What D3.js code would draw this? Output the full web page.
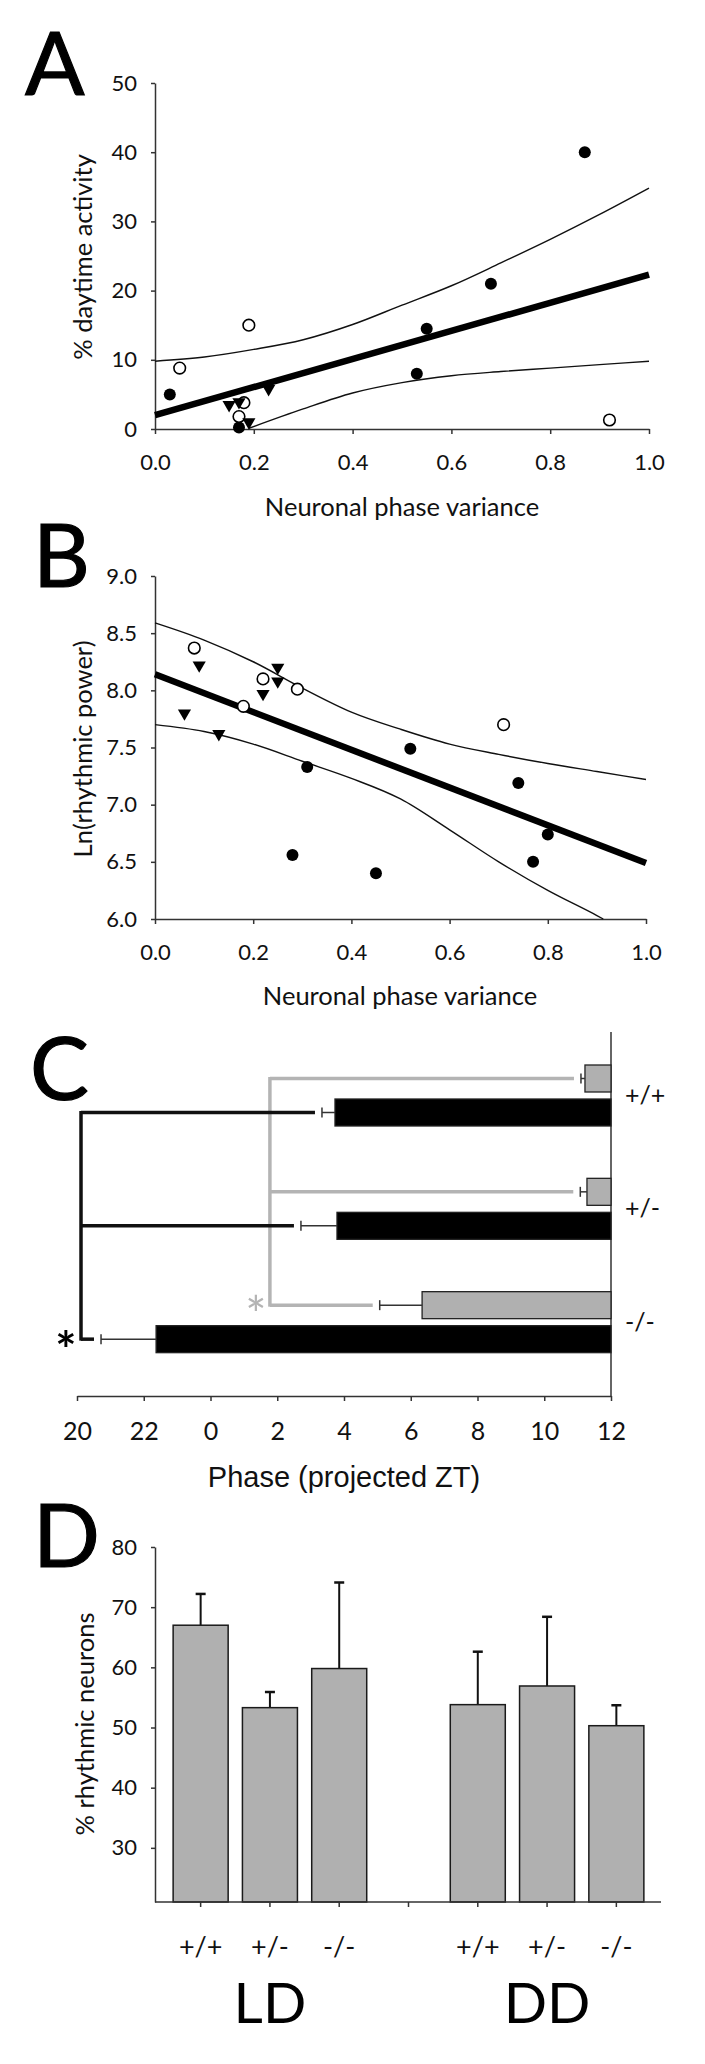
<!DOCTYPE html>
<html><head><meta charset="utf-8">
<script src="https://cdn.jsdelivr.net/npm/d3@7"></script>
<style>body{margin:0;background:#fff} svg{display:block} text{font-family:Lato, sans-serif; fill:#111}</style>
</head><body><svg id="c" width="705" height="2064"></svg>
<script>
// ---------- Panel A data ----------
const aFilled = [[0.03,5.0],[0.17,0.2],[0.53,8.0],[0.55,14.5],[0.68,21.0],[0.87,40.0]];
const aOpen = [[0.05,8.8],[0.19,15.0],[0.18,3.8],[0.17,1.8],[0.92,1.3]];
const aTri = [[0.15,3.5],[0.17,3.9],[0.19,1.0],[0.23,5.8]];
const aFit = [[0,2.0],[1,22.3]];
const aUpper = [[0,9.8],[0.1,10.4],[0.2,11.5],[0.3,12.9],[0.4,15.1],[0.5,17.9],[0.6,20.7],[0.7,24.0],[0.8,27.4],[0.9,31.0],[1.0,34.8]];
const aLower = [[0.19,0.1],[0.3,2.9],[0.4,5.2],[0.5,6.7],[0.6,7.7],[0.7,8.3],[0.8,8.8],[0.9,9.3],[1.0,9.8]];
const aXTicks = [0,0.2,0.4,0.6,0.8,1.0];
const aYTicks = [0,10,20,30,40,50];

// ---------- Panel B data ----------
const bOpen = [[0.08,8.37],[0.22,8.10],[0.29,8.01],[0.18,7.86],[0.71,7.70]];
const bTri = [[0.09,8.22],[0.25,8.20],[0.25,8.08],[0.22,7.97],[0.06,7.80],[0.13,7.62]];
const bFilled = [[0.31,7.33],[0.52,7.49],[0.28,6.56],[0.45,6.40],[0.74,7.19],[0.80,6.74],[0.77,6.50]];
const bFit = [[0,8.14],[1,6.49]];
const bUpper = [[0,8.59],[0.1,8.44],[0.2,8.25],[0.3,8.02],[0.4,7.81],[0.5,7.66],[0.6,7.53],[0.7,7.44],[0.8,7.36],[0.9,7.29],[1.0,7.22]];
const bLower = [[0,7.70],[0.1,7.64],[0.2,7.53],[0.3,7.38],[0.4,7.23],[0.5,7.05],[0.6,6.78],[0.7,6.50],[0.8,6.25],[0.9,6.03],[0.913,6.0]];
const bXTicks = [0,0.2,0.4,0.6,0.8,1.0];
const bYTicks = [6.0,6.5,7.0,7.5,8.0,8.5,9.0];

// ---------- Panel C data (phase in projected ZT) ----------
const cGenotypes = ["+/+","+/-","-/-"];
const cGrayPhase = [11.22, 11.28, 6.34];
const cGraySem = [0.12, 0.2, 1.27];
const cBlackPhase = [3.73, 3.79, 22.37];
const cBlackSem = [0.39, 1.08, 1.65];
const cTickHours = [20,22,0,2,4,6,8,10,12];
const cGrayBracket = 1.78;   // ZT
const cBlackBracket = 20.12; // ZT

// ---------- Panel D data ----------
const dConditions = ["LD","DD"];
const dGenotypes = ["+/+","+/-","-/-"];
const dLD = [67.0, 53.3, 59.8];
const dLDsem = [5.2, 2.6, 14.3];
const dDD = [53.8, 56.9, 50.3];
const dDDsem = [8.8, 11.5, 3.4];
const dYTicks = [30,40,50,60,70,80];

const svg = d3.select("#c");
const AX = "#333";

function styleAxis(g, fs){
  g.select(".domain").attr("stroke",AX).attr("stroke-width",1.5);
  g.selectAll(".tick line").attr("stroke",AX).attr("stroke-width",1.5);
  g.selectAll(".tick text").attr("fill","#111").style("font-family","Lato").style("font-size",fs+"px");
}
function letter(t,x,y){
  svg.append("text").attr("x",x).attr("y",y).style("font-size","88px").style("fill","#000")
    .attr("stroke","#000").attr("stroke-width",1.2).text(t);
}
function scatter(x,y,filled,open,tri,fit,upper,lower){
  const g = svg.append("g");
  const line = d3.line().x(d=>x(d[0])).y(d=>y(d[1])).curve(d3.curveMonotoneX);
  g.append("path").attr("d",line(upper)).attr("fill","none").attr("stroke","#111").attr("stroke-width",1.4);
  g.append("path").attr("d",line(lower)).attr("fill","none").attr("stroke","#111").attr("stroke-width",1.4);
  g.append("path").attr("d",d3.line().x(d=>x(d[0])).y(d=>y(d[1]))(fit)).attr("fill","none").attr("stroke","#000").attr("stroke-width",6.5);
  g.selectAll(".f").data(filled).join("circle").attr("cx",d=>x(d[0])).attr("cy",d=>y(d[1])).attr("r",6).attr("fill","#000");
  g.selectAll(".o").data(open).join("circle").attr("cx",d=>x(d[0])).attr("cy",d=>y(d[1])).attr("r",5.8).attr("fill","#fff").attr("stroke","#000").attr("stroke-width",1.6);
  const sym = d3.symbol(d3.symbolTriangle,75);
  g.selectAll(".t").data(tri).join("path").attr("d",sym).attr("transform",d=>`translate(${x(d[0])},${y(d[1])}) rotate(180)`).attr("fill","#000");
}

// ================= Panel A =================
{
  const x = d3.scaleLinear([0,1],[155,649]);
  const y = d3.scaleLinear([0,50],[429,83]);
  const gx = svg.append("g").attr("transform","translate(0,429)")
    .call(d3.axisBottom(x).tickValues(aXTicks).tickFormat(d3.format(".1f")).tickSize(5).tickSizeOuter(0).tickPadding(20));
  styleAxis(gx,22);
  const gy = svg.append("g").attr("transform","translate(155,0)")
    .call(d3.axisLeft(y).tickValues(aYTicks).tickSize(4).tickSizeOuter(0).tickPadding(14));
  styleAxis(gy,22);
  scatter(x,y,aFilled,aOpen,aTri,aFit,aUpper,aLower);
  svg.append("text").attr("x",402).attr("y",516).attr("text-anchor","middle").style("font-size","25.5px").text("Neuronal phase variance");
  svg.append("text").attr("transform","translate(83,257) rotate(-90)").attr("text-anchor","middle").attr("dy","0.35em").style("font-size","25.5px").text("% daytime activity");
  letter("A",25,95);
}

// ================= Panel B =================
{
  const x = d3.scaleLinear([0,1],[155,646]);
  const y = d3.scaleLinear([6,9],[919,576]);
  const gx = svg.append("g").attr("transform","translate(0,919)")
    .call(d3.axisBottom(x).tickValues(bXTicks).tickFormat(d3.format(".1f")).tickSize(5).tickSizeOuter(0).tickPadding(20));
  styleAxis(gx,22);
  const gy = svg.append("g").attr("transform","translate(155,0)")
    .call(d3.axisLeft(y).tickValues(bYTicks).tickFormat(d3.format(".1f")).tickSize(4).tickSizeOuter(0).tickPadding(14));
  styleAxis(gy,22);
  scatter(x,y,bFilled,bOpen,bTri,bFit,bUpper,bLower);
  svg.append("text").attr("x",400).attr("y",1005).attr("text-anchor","middle").style("font-size","25.5px").text("Neuronal phase variance");
  svg.append("text").attr("transform","translate(83,749) rotate(-90)").attr("text-anchor","middle").attr("dy","0.35em").style("font-size","25.5px").text("Ln(rhythmic power)");
  letter("B",33,587);
}

// ================= Panel C =================
{
  const toT = h => h >= 20 ? h : h + 24;
  const x = d3.scaleLinear([20,36],[77,611]);
  const y = d3.scaleBand(cGenotypes,[1038.5,1378.5]);
  const sub = d3.scaleBand(["gray","black"],[26.5,87.5]).paddingInner(0.206);
  const bw = sub.bandwidth();
  const gx = svg.append("g").attr("transform","translate(0,1396)")
    .call(d3.axisBottom(x).tickValues(cTickHours.map(toT)).tickFormat(d=>d%24).tickSize(5).tickSizeOuter(0).tickPadding(21));
  styleAxis(gx,25);
  svg.append("line").attr("x1",x(36)).attr("x2",x(36)).attr("y1",1032).attr("y2",1396).attr("stroke",AX).attr("stroke-width",1.5);

  const rows = cGenotypes.map((g,i)=>({g,
    gray:{t:toT(cGrayPhase[i]),s:cGraySem[i],yc:y(g)+sub("gray")+bw/2},
    black:{t:toT(cBlackPhase[i]),s:cBlackSem[i],yc:y(g)+sub("black")+bw/2}}));
  const grayC = "#b4b4b4";
  // brackets
  const gbx = x(toT(cGrayBracket));
  svg.append("line").attr("x1",gbx).attr("x2",gbx).attr("y1",rows[0].gray.yc-1.5).attr("y2",rows[2].gray.yc+1.5).attr("stroke",grayC).attr("stroke-width",3.5);
  rows.forEach(r=>{
    svg.append("line").attr("x1",gbx).attr("x2",x(r.gray.t-r.gray.s)-7).attr("y1",r.gray.yc).attr("y2",r.gray.yc).attr("stroke",grayC).attr("stroke-width",3.5);
  });
  const bbx = x(toT(cBlackBracket));
  svg.append("line").attr("x1",bbx).attr("x2",bbx).attr("y1",rows[0].black.yc-1.5).attr("y2",rows[2].black.yc+1.5).attr("stroke","#111").attr("stroke-width",3.5);
  rows.forEach(r=>{
    svg.append("line").attr("x1",bbx).attr("x2",x(r.black.t-r.black.s)-7).attr("y1",r.black.yc).attr("y2",r.black.yc).attr("stroke","#111").attr("stroke-width",3.5);
  });
  // bars + error bars
  rows.forEach(r=>{
    [["gray","#b0b0b0"],["black","#000"]].forEach(([k,fill])=>{
      const d = r[k];
      svg.append("rect").attr("x",x(d.t)).attr("y",d.yc-bw/2).attr("width",x(36)-x(d.t)).attr("height",bw)
        .attr("fill",fill).attr("stroke","#222").attr("stroke-width",1.3);
      const e = x(d.t-d.s);
      svg.append("line").attr("x1",x(d.t)).attr("x2",e).attr("y1",d.yc).attr("y2",d.yc).attr("stroke","#333").attr("stroke-width",1.5);
      svg.append("line").attr("x1",e).attr("x2",e).attr("y1",d.yc-5).attr("y2",d.yc+5).attr("stroke","#333").attr("stroke-width",1.5);
    });
    svg.append("text").attr("x",625).attr("y",y(r.g)+y.bandwidth()/2).attr("dy","0.35em").style("font-size","25px").text(r.g);
  });
  svg.append("text").attr("x",gbx-14).attr("y",rows[2].gray.yc+28).attr("text-anchor","middle").style("font-size","50px").style("fill",grayC).text("*");
  svg.append("text").attr("x",bbx-15).attr("y",rows[2].black.yc+29).attr("text-anchor","middle").style("font-size","50px").style("font-weight","bold").style("fill","#000").text("*");
  svg.append("text").attr("x",344).attr("y",1487).attr("text-anchor","middle").style("font-family","'Liberation Sans', Arial, sans-serif").style("font-size","29px").text("Phase (projected ZT)");
  letter("C",30,1100);
}

// ================= Panel D =================
{
  const keys = ["LD+/+","LD+/-","LD-/-","gap","DD+/+","DD+/-","DD-/-"];
  const vals = {}; const sems = {};
  dGenotypes.forEach((g,i)=>{vals["LD"+g]=dLD[i]; sems["LD"+g]=dLDsem[i]; vals["DD"+g]=dDD[i]; sems["DD"+g]=dDDsem[i];});
  const x = d3.scaleBand(keys,[166,651]).paddingInner(0.206).paddingOuter(0.103);
  const y = d3.scaleLinear([21,80],[1902,1547]);
  const gy = svg.append("g").attr("transform","translate(155,0)")
    .call(d3.axisLeft(y).tickValues(dYTicks).tickSize(4).tickSizeOuter(0).tickPadding(14));
  styleAxis(gy,22);
  const data = keys.filter(k=>k!=="gap");
  data.forEach(k=>{
    const cx = x(k)+x.bandwidth()/2, top = y(vals[k]+sems[k]);
    svg.append("line").attr("x1",cx).attr("x2",cx).attr("y1",y(vals[k])).attr("y2",top).attr("stroke","#111").attr("stroke-width",2);
    svg.append("line").attr("x1",cx-5).attr("x2",cx+5).attr("y1",top).attr("y2",top).attr("stroke","#111").attr("stroke-width",2.5);
    svg.append("rect").attr("x",x(k)).attr("y",y(vals[k])).attr("width",x.bandwidth()).attr("height",y(21)-y(vals[k]))
      .attr("fill","#b0b0b0").attr("stroke","#1a1a1a").attr("stroke-width",1.5);
  });
  svg.append("line").attr("x1",155).attr("x2",661).attr("y1",1902).attr("y2",1902).attr("stroke",AX).attr("stroke-width",1.5);
  keys.forEach(k=>{
    const cx = x(k)+x.bandwidth()/2;
    svg.append("line").attr("x1",cx).attr("x2",cx).attr("y1",1902).attr("y2",1907).attr("stroke",AX).attr("stroke-width",1.5);
    if(k!=="gap") svg.append("text").attr("x",cx).attr("y",1947).attr("dy","0.35em").attr("text-anchor","middle").style("font-size","27px").text(k.slice(2));
  });
  dConditions.forEach(c=>{
    const k = c+"+/-";
    svg.append("text").attr("x",x(k)+x.bandwidth()/2).attr("y",2023).attr("text-anchor","middle").style("font-size","57px").style("fill","#000").text(c);
  });
  svg.append("text").attr("transform","translate(85,1724) rotate(-90)").attr("text-anchor","middle").attr("dy","0.35em").style("font-size","25.5px").text("% rhythmic neurons");
  letter("D",33,1567);
}
</script></body></html>
